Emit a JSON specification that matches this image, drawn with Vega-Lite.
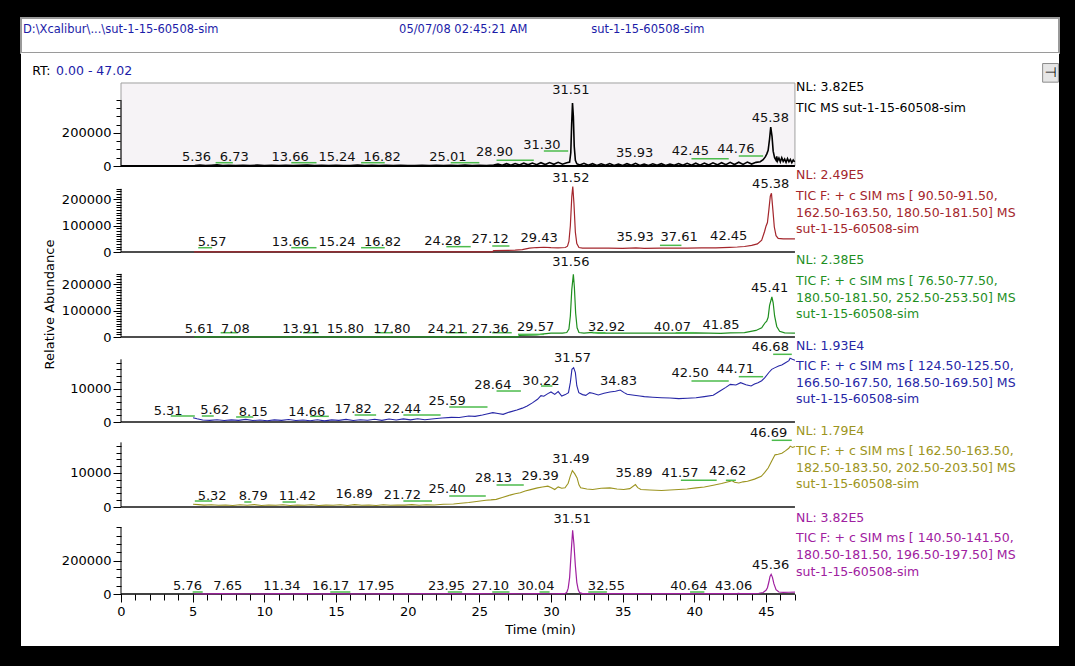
{
  "$schema": "https://vega.github.io/schema/vega-lite/v6.json",
  "background": "black",
  "padding": {"left": 20, "top": 17, "right": 17, "bottom": 21},
  "spacing": 0,
  "bounds": "flush",
  "config": {"font": "DejaVu Sans", "view": {"stroke": null}, "axis": {"grid": false, "labelFont": "DejaVu Sans", "titleFont": "DejaVu Sans", "domain": false, "tickColor": "black", "labelColor": "black", "labelFontSize": 13, "labelPadding": 2, "labelFlush": false, "labelBound": false, "titleColor": "black", "titleFontWeight": "normal", "titleFontSize": 13}},
  "datasets": {
    "tic": [{"t":5.15,"v":3000},{"t":5.5,"v":6000},{"t":5.9,"v":2500},{"t":6.3,"v":5000},{"t":6.7,"v":7000},{"t":7.1,"v":3000},{"t":7.5,"v":4500},{"t":8.0,"v":2000},{"t":8.5,"v":4000},{"t":9.0,"v":2500},{"t":9.5,"v":5000},{"t":10.0,"v":2000},{"t":10.5,"v":3500},{"t":11.0,"v":2500},{"t":11.5,"v":4500},{"t":12.0,"v":2000},{"t":12.5,"v":3500},{"t":13.0,"v":5500},{"t":13.5,"v":3000},{"t":14.0,"v":4000},{"t":14.5,"v":2000},{"t":15.0,"v":4500},{"t":15.5,"v":3000},{"t":16.0,"v":2500},{"t":16.5,"v":5000},{"t":17.0,"v":3000},{"t":17.5,"v":4000},{"t":18.0,"v":2000},{"t":18.5,"v":3500},{"t":19.0,"v":2500},{"t":19.5,"v":4000},{"t":20.0,"v":2000},{"t":20.5,"v":3000},{"t":21.0,"v":4500},{"t":21.5,"v":2500},{"t":22.0,"v":3500},{"t":22.5,"v":2000},{"t":23.0,"v":4000},{"t":23.5,"v":3000},{"t":24.0,"v":5000},{"t":24.5,"v":2500},{"t":25.0,"v":4500},{"t":25.5,"v":3000},{"t":26.0,"v":6000},{"t":26.3,"v":12000},{"t":26.6,"v":4000},{"t":26.9,"v":14000},{"t":27.2,"v":5000},{"t":27.5,"v":15000},{"t":27.8,"v":6000},{"t":28.1,"v":17000},{"t":28.4,"v":7000},{"t":28.7,"v":18000},{"t":29.0,"v":8000},{"t":29.3,"v":20000},{"t":29.6,"v":9000},{"t":29.9,"v":21000},{"t":30.2,"v":10000},{"t":30.5,"v":22000},{"t":30.8,"v":11000},{"t":31.1,"v":20000},{"t":31.3,"v":24000},{"t":31.38,"v":80000},{"t":31.44,"v":250000},{"t":31.5,"v":382000},{"t":31.56,"v":300000},{"t":31.62,"v":120000},{"t":31.7,"v":35000},{"t":31.8,"v":14000},{"t":32.0,"v":6000},{"t":32.3,"v":16000},{"t":32.6,"v":4000},{"t":32.9,"v":14000},{"t":33.2,"v":3000},{"t":33.5,"v":13000},{"t":33.8,"v":4000},{"t":34.1,"v":15000},{"t":34.4,"v":3000},{"t":34.7,"v":12000},{"t":35.0,"v":3000},{"t":35.3,"v":14000},{"t":35.6,"v":4000},{"t":35.9,"v":16000},{"t":36.2,"v":3000},{"t":36.5,"v":12000},{"t":36.8,"v":3000},{"t":37.1,"v":13000},{"t":37.4,"v":4000},{"t":37.7,"v":14000},{"t":38.0,"v":3000},{"t":38.3,"v":12000},{"t":38.6,"v":4000},{"t":38.9,"v":15000},{"t":39.2,"v":4000},{"t":39.5,"v":16000},{"t":39.8,"v":5000},{"t":40.1,"v":17000},{"t":40.4,"v":5000},{"t":40.7,"v":18000},{"t":41.0,"v":6000},{"t":41.3,"v":19000},{"t":41.6,"v":7000},{"t":41.9,"v":20000},{"t":42.2,"v":8000},{"t":42.5,"v":22000},{"t":42.8,"v":9000},{"t":43.1,"v":23000},{"t":43.4,"v":10000},{"t":43.7,"v":24000},{"t":44.0,"v":12000},{"t":44.3,"v":22000},{"t":44.6,"v":26000},{"t":44.8,"v":38000},{"t":44.95,"v":55000},{"t":45.05,"v":72000},{"t":45.15,"v":95000},{"t":45.25,"v":165000},{"t":45.33,"v":236000},{"t":45.42,"v":180000},{"t":45.5,"v":90000},{"t":45.6,"v":50000},{"t":45.7,"v":35000},{"t":45.75,"v":58000},{"t":45.8,"v":30000},{"t":45.9,"v":48000},{"t":46.0,"v":25000},{"t":46.1,"v":50000},{"t":46.2,"v":28000},{"t":46.3,"v":42000},{"t":46.4,"v":22000},{"t":46.5,"v":45000},{"t":46.6,"v":26000},{"t":46.7,"v":40000},{"t":46.8,"v":20000},{"t":46.9,"v":36000},{"t":47.0,"v":25000}],
    "red": [{"t":5.1,"v":300},{"t":8,"v":300},{"t":12,"v":400},{"t":16,"v":300},{"t":20,"v":400},{"t":24,"v":300},{"t":25.9,"v":500},{"t":26.0,"v":5000},{"t":27.0,"v":6000},{"t":27.5,"v":7000},{"t":28.0,"v":9000},{"t":28.5,"v":15000},{"t":29.0,"v":17000},{"t":29.5,"v":18000},{"t":30.0,"v":16500},{"t":30.5,"v":16000},{"t":31.0,"v":17000},{"t":31.15,"v":22000},{"t":31.25,"v":40000},{"t":31.35,"v":100000},{"t":31.45,"v":210000},{"t":31.52,"v":249000},{"t":31.6,"v":185000},{"t":31.7,"v":75000},{"t":31.8,"v":32000},{"t":31.95,"v":17000},{"t":32.2,"v":15000},{"t":33,"v":14500},{"t":34,"v":15000},{"t":35,"v":14000},{"t":35.93,"v":15500},{"t":36.5,"v":13500},{"t":37.61,"v":14500},{"t":38.5,"v":15000},{"t":39.5,"v":14500},{"t":40.5,"v":15500},{"t":41.5,"v":16000},{"t":42.45,"v":17500},{"t":43,"v":19000},{"t":43.5,"v":21000},{"t":44,"v":25000},{"t":44.4,"v":31000},{"t":44.7,"v":45000},{"t":44.9,"v":78000},{"t":45.0,"v":98000},{"t":45.1,"v":112000},{"t":45.2,"v":160000},{"t":45.3,"v":212000},{"t":45.38,"v":223000},{"t":45.48,"v":160000},{"t":45.58,"v":95000},{"t":45.7,"v":62000},{"t":45.85,"v":52000},{"t":46.2,"v":50000},{"t":47.02,"v":50000}],
    "grn": [{"t":5.1,"v":500},{"t":10,"v":600},{"t":15,"v":500},{"t":20,"v":600},{"t":25,"v":500},{"t":27.7,"v":700},{"t":27.8,"v":6000},{"t":29.0,"v":7500},{"t":29.5,"v":12000},{"t":30.0,"v":15000},{"t":30.8,"v":15000},{"t":31.1,"v":17000},{"t":31.25,"v":30000},{"t":31.35,"v":80000},{"t":31.45,"v":180000},{"t":31.56,"v":238000},{"t":31.63,"v":190000},{"t":31.72,"v":90000},{"t":31.82,"v":35000},{"t":31.95,"v":17000},{"t":32.3,"v":15000},{"t":32.9,"v":17500},{"t":33.3,"v":15000},{"t":35,"v":15000},{"t":37,"v":14500},{"t":39,"v":15000},{"t":40.07,"v":16000},{"t":41,"v":15000},{"t":41.85,"v":14000},{"t":42.5,"v":16000},{"t":43.5,"v":17000},{"t":44.3,"v":25000},{"t":44.7,"v":35000},{"t":44.95,"v":55000},{"t":45.05,"v":60000},{"t":45.15,"v":75000},{"t":45.25,"v":120000},{"t":45.41,"v":152000},{"t":45.5,"v":130000},{"t":45.6,"v":80000},{"t":45.75,"v":40000},{"t":45.95,"v":22000},{"t":46.3,"v":16000},{"t":47.02,"v":15000}],
    "blu": [{"t":5.03,"v":1310},{"t":5.3,"v":1000},{"t":5.7,"v":600},{"t":6.2,"v":500},{"t":6.7,"v":700},{"t":7.2,"v":450},{"t":7.7,"v":650},{"t":8.2,"v":500},{"t":8.7,"v":800},{"t":9.2,"v":450},{"t":9.7,"v":600},{"t":10.2,"v":400},{"t":10.7,"v":650},{"t":11.2,"v":500},{"t":11.7,"v":750},{"t":12.2,"v":450},{"t":12.7,"v":600},{"t":13.2,"v":400},{"t":13.7,"v":700},{"t":14.2,"v":350},{"t":14.7,"v":650},{"t":15.2,"v":500},{"t":15.7,"v":800},{"t":16.2,"v":450},{"t":16.7,"v":700},{"t":17.2,"v":550},{"t":17.7,"v":850},{"t":18.2,"v":500},{"t":18.7,"v":900},{"t":19.2,"v":600},{"t":19.7,"v":950},{"t":20.2,"v":650},{"t":20.7,"v":1000},{"t":21.2,"v":700},{"t":21.85,"v":1000},{"t":22.4,"v":1200},{"t":23.05,"v":1410},{"t":23.6,"v":1350},{"t":24.26,"v":1820},{"t":24.7,"v":1700},{"t":25.22,"v":2120},{"t":25.6,"v":2500},{"t":25.94,"v":2830},{"t":26.3,"v":2600},{"t":26.66,"v":2320},{"t":27.1,"v":3000},{"t":27.62,"v":3640},{"t":28.0,"v":4200},{"t":28.34,"v":4850},{"t":28.7,"v":5800},{"t":29.06,"v":6870},{"t":29.3,"v":8000},{"t":29.5,"v":7800},{"t":29.78,"v":8600},{"t":30.0,"v":9100},{"t":30.26,"v":8380},{"t":30.5,"v":9200},{"t":30.75,"v":7880},{"t":31.0,"v":8300},{"t":31.22,"v":8890},{"t":31.35,"v":12000},{"t":31.46,"v":15960},{"t":31.58,"v":16460},{"t":31.7,"v":14950},{"t":31.8,"v":11000},{"t":31.94,"v":8890},{"t":32.2,"v":8300},{"t":32.43,"v":8080},{"t":32.7,"v":8900},{"t":32.91,"v":8690},{"t":33.3,"v":8200},{"t":33.7,"v":8700},{"t":34.11,"v":9090},{"t":34.5,"v":9300},{"t":34.83,"v":9700},{"t":35.1,"v":8900},{"t":35.31,"v":8380},{"t":35.8,"v":8100},{"t":36.2,"v":7900},{"t":36.51,"v":7680},{"t":37.1,"v":7500},{"t":37.71,"v":7370},{"t":38.3,"v":7250},{"t":38.91,"v":7070},{"t":39.5,"v":7200},{"t":40.12,"v":7370},{"t":40.7,"v":7700},{"t":41.32,"v":8080},{"t":41.79,"v":9390},{"t":42.2,"v":10500},{"t":42.51,"v":11410},{"t":42.9,"v":11200},{"t":43.23,"v":11920},{"t":43.6,"v":11300},{"t":43.96,"v":10910},{"t":44.2,"v":11500},{"t":44.44,"v":11920},{"t":44.7,"v":12500},{"t":44.92,"v":13430},{"t":45.2,"v":15000},{"t":45.4,"v":15960},{"t":45.6,"v":16400},{"t":45.88,"v":16970},{"t":46.1,"v":17300},{"t":46.36,"v":17980},{"t":46.6,"v":18600},{"t":46.68,"v":19300},{"t":46.84,"v":18990},{"t":47.02,"v":18700}],
    "olv": [{"t":5.03,"v":800},{"t":5.4,"v":700},{"t":5.8,"v":550},{"t":6.3,"v":650},{"t":6.8,"v":500},{"t":7.3,"v":600},{"t":7.8,"v":450},{"t":8.3,"v":650},{"t":8.8,"v":500},{"t":9.3,"v":700},{"t":9.8,"v":450},{"t":10.3,"v":600},{"t":10.8,"v":500},{"t":11.3,"v":650},{"t":11.8,"v":450},{"t":12.3,"v":600},{"t":12.8,"v":500},{"t":13.3,"v":650},{"t":13.8,"v":450},{"t":14.3,"v":550},{"t":14.8,"v":500},{"t":15.3,"v":650},{"t":15.8,"v":450},{"t":16.3,"v":700},{"t":16.8,"v":500},{"t":17.3,"v":600},{"t":17.8,"v":450},{"t":18.3,"v":650},{"t":18.8,"v":500},{"t":19.3,"v":600},{"t":19.8,"v":550},{"t":20.3,"v":700},{"t":20.8,"v":500},{"t":21.3,"v":650},{"t":21.85,"v":600},{"t":22.5,"v":800},{"t":23.2,"v":900},{"t":23.7,"v":1100},{"t":24.26,"v":1300},{"t":24.8,"v":1600},{"t":25.46,"v":2000},{"t":25.8,"v":2100},{"t":26.18,"v":2250},{"t":26.6,"v":2800},{"t":27.14,"v":3500},{"t":27.5,"v":3900},{"t":27.86,"v":4200},{"t":28.2,"v":4700},{"t":28.58,"v":5100},{"t":29.06,"v":5630},{"t":29.4,"v":5900},{"t":29.78,"v":6120},{"t":30.0,"v":5700},{"t":30.26,"v":5140},{"t":30.5,"v":5900},{"t":30.75,"v":5500},{"t":30.98,"v":5630},{"t":31.2,"v":7000},{"t":31.34,"v":9020},{"t":31.49,"v":10680},{"t":31.65,"v":9800},{"t":31.82,"v":8540},{"t":31.95,"v":6500},{"t":32.07,"v":5630},{"t":32.5,"v":5300},{"t":32.91,"v":5140},{"t":33.5,"v":5500},{"t":34.11,"v":5630},{"t":34.6,"v":5300},{"t":35.07,"v":5140},{"t":35.5,"v":5400},{"t":35.89,"v":6600},{"t":36.05,"v":5700},{"t":36.27,"v":5140},{"t":36.9,"v":5000},{"t":37.71,"v":4850},{"t":38.3,"v":5000},{"t":38.91,"v":5140},{"t":39.5,"v":5300},{"t":40.12,"v":5630},{"t":40.7,"v":5900},{"t":41.32,"v":6400},{"t":41.9,"v":6900},{"t":42.51,"v":7570},{"t":42.62,"v":7800},{"t":42.8,"v":7300},{"t":43.11,"v":7080},{"t":43.4,"v":7400},{"t":43.71,"v":7570},{"t":44.2,"v":8200},{"t":44.67,"v":9020},{"t":44.9,"v":10100},{"t":45.15,"v":11450},{"t":45.4,"v":13500},{"t":45.63,"v":15330},{"t":45.85,"v":15500},{"t":46.11,"v":15810},{"t":46.35,"v":16500},{"t":46.59,"v":17270},{"t":46.69,"v":17900},{"t":46.85,"v":17500},{"t":47.02,"v":17800}],
    "pur": [{"t":5.1,"v":1500},{"t":6,"v":1200},{"t":7,"v":1800},{"t":8,"v":1200},{"t":9,"v":1600},{"t":10,"v":1200},{"t":11,"v":1800},{"t":12,"v":1300},{"t":13,"v":1700},{"t":14,"v":1200},{"t":15,"v":1800},{"t":16,"v":1300},{"t":17,"v":1600},{"t":18,"v":1200},{"t":19,"v":1700},{"t":20,"v":1300},{"t":21,"v":1800},{"t":22,"v":1400},{"t":23,"v":1700},{"t":24,"v":1300},{"t":25,"v":1800},{"t":26,"v":1400},{"t":27,"v":1700},{"t":28,"v":1500},{"t":29,"v":1900},{"t":30,"v":1600},{"t":30.6,"v":2000},{"t":30.9,"v":2500},{"t":31.0,"v":3500},{"t":31.1,"v":10000},{"t":31.2,"v":35000},{"t":31.3,"v":100000},{"t":31.4,"v":240000},{"t":31.51,"v":382000},{"t":31.6,"v":300000},{"t":31.7,"v":170000},{"t":31.8,"v":70000},{"t":31.9,"v":25000},{"t":32.0,"v":8000},{"t":32.2,"v":2500},{"t":33,"v":1800},{"t":34,"v":2200},{"t":35,"v":1700},{"t":36,"v":2100},{"t":37,"v":1800},{"t":38,"v":2200},{"t":39,"v":1800},{"t":40,"v":2300},{"t":41,"v":1900},{"t":42,"v":2400},{"t":43,"v":2200},{"t":43.06,"v":3500},{"t":43.2,"v":2300},{"t":44.0,"v":2800},{"t":44.5,"v":4500},{"t":44.8,"v":9000},{"t":45.0,"v":22000},{"t":45.1,"v":38000},{"t":45.2,"v":72000},{"t":45.28,"v":105000},{"t":45.36,"v":118000},{"t":45.45,"v":100000},{"t":45.55,"v":62000},{"t":45.7,"v":26000},{"t":45.9,"v":12000},{"t":46.2,"v":10000},{"t":46.6,"v":10500},{"t":47.02,"v":11000}],
    "lab1": [{"t":5.27,"v":54500,"label":"5.36"},{"t":7.9,"v":54500,"label":"6.73"},{"t":11.8,"v":54500,"label":"13.66"},{"t":15.07,"v":54500,"label":"15.24"},{"t":18.22,"v":54500,"label":"16.82"},{"t":22.81,"v":54500,"label":"25.01"},{"t":26.06,"v":84800,"label":"28.90"},{"t":29.36,"v":127300,"label":"31.30"},{"t":31.39,"v":460600,"label":"31.51"},{"t":35.84,"v":80600,"label":"35.93"},{"t":39.72,"v":90900,"label":"42.45"},{"t":42.9,"v":103000,"label":"44.76"},{"t":45.3,"v":290900,"label":"45.38"}],
    "lab2": [{"t":6.36,"v":38000,"label":"5.57"},{"t":11.82,"v":38000,"label":"13.66"},{"t":15.07,"v":38000,"label":"15.24"},{"t":18.25,"v":38000,"label":"16.82"},{"t":22.45,"v":41800,"label":"24.28"},{"t":25.75,"v":48300,"label":"27.12"},{"t":29.17,"v":54400,"label":"29.43"},{"t":31.39,"v":282300,"label":"31.52"},{"t":35.87,"v":57000,"label":"35.93"},{"t":38.94,"v":57000,"label":"37.61"},{"t":42.4,"v":60800,"label":"42.45"},{"t":45.33,"v":257300,"label":"45.38"}],
    "lab3": [{"t":5.46,"v":31500,"label":"5.61"},{"t":7.98,"v":31500,"label":"7.08"},{"t":12.54,"v":31500,"label":"13.91"},{"t":15.66,"v":31500,"label":"15.80"},{"t":18.9,"v":31500,"label":"17.80"},{"t":22.69,"v":31500,"label":"24.21"},{"t":25.76,"v":31500,"label":"27.36"},{"t":28.93,"v":38000,"label":"29.57"},{"t":31.39,"v":286100,"label":"31.56"},{"t":33.88,"v":38000,"label":"32.92"},{"t":38.47,"v":38000,"label":"40.07"},{"t":41.86,"v":45600,"label":"41.85"},{"t":45.25,"v":187300,"label":"45.41"}],
    "lab4": [{"t":3.29,"v":3330,"label":"5.31"},{"t":6.54,"v":3540,"label":"5.62"},{"t":9.23,"v":3030,"label":"8.15"},{"t":12.96,"v":3030,"label":"14.66"},{"t":16.2,"v":4030,"label":"17.82"},{"t":19.63,"v":4030,"label":"22.44"},{"t":22.75,"v":6360,"label":"25.59"},{"t":25.94,"v":11120,"label":"28.64"},{"t":29.3,"v":12420,"label":"30.22"},{"t":31.5,"v":19480,"label":"31.57"},{"t":34.71,"v":12420,"label":"34.83"},{"t":39.71,"v":14940,"label":"42.50"},{"t":42.87,"v":15970,"label":"44.71"},{"t":45.3,"v":22820,"label":"46.68"}],
    "lab5": [{"t":6.36,"v":3230,"label":"5.32"},{"t":9.23,"v":3230,"label":"8.79"},{"t":12.3,"v":3230,"label":"11.42"},{"t":16.26,"v":3730,"label":"16.89"},{"t":19.63,"v":3530,"label":"21.72"},{"t":22.75,"v":5200,"label":"25.40"},{"t":25.99,"v":8440,"label":"28.13"},{"t":29.24,"v":9110,"label":"29.39"},{"t":31.39,"v":14020,"label":"31.49"},{"t":35.79,"v":10080,"label":"35.89"},{"t":39.0,"v":10080,"label":"41.57"},{"t":42.33,"v":10580,"label":"42.62"},{"t":45.18,"v":21840,"label":"46.69"}],
    "lab6": [{"t":4.64,"v":48000,"label":"5.76"},{"t":7.45,"v":48000,"label":"7.65"},{"t":11.22,"v":48000,"label":"11.34"},{"t":14.62,"v":48000,"label":"16.17"},{"t":17.79,"v":48000,"label":"17.95"},{"t":22.71,"v":48000,"label":"23.95"},{"t":25.77,"v":48000,"label":"27.10"},{"t":28.94,"v":48000,"label":"30.04"},{"t":31.47,"v":451800,"label":"31.51"},{"t":33.87,"v":48000,"label":"32.55"},{"t":39.62,"v":48000,"label":"40.64"},{"t":42.74,"v":48000,"label":"43.06"},{"t":45.33,"v":172200,"label":"45.36"}],
    "seg1": [{"t":6.6,"t2":7.8,"v":20000},{"t":11.88,"t2":13.64,"v":20000},{"t":16.75,"t2":18.4,"v":20000},{"t":23.0,"t2":25.0,"v":20000},{"t":26.2,"t2":28.8,"v":34500},{"t":29.5,"t2":31.2,"v":90900},{"t":39.8,"t2":42.4,"v":44200},{"t":43.1,"t2":44.8,"v":60600}],
    "seg2": [{"t":5.39,"t2":6.36,"v":16300},{"t":11.88,"t2":13.64,"v":16300},{"t":16.75,"t2":18.4,"v":16300},{"t":22.7,"t2":24.4,"v":20300},{"t":25.9,"t2":27.1,"v":22800},{"t":37.6,"t2":39.1,"v":25300}],
    "seg3": [{"t":6.95,"t2":8.15,"v":16300},{"t":12.7,"t2":13.8,"v":16300},{"t":17.77,"t2":18.97,"v":16300},{"t":22.7,"t2":24.14,"v":16300},{"t":25.9,"t2":27.26,"v":16300},{"t":27.7,"t2":29.5,"v":10000},{"t":32.9,"t2":33.8,"v":16300},{"t":38.7,"t2":40.0,"v":16300}],
    "seg4": [{"t":3.47,"t2":5.15,"v":1820},{"t":5.64,"t2":6.47,"v":1820},{"t":8.03,"t2":9.23,"v":1520},{"t":13.2,"t2":14.5,"v":1720},{"t":16.3,"t2":17.8,"v":2120},{"t":19.7,"t2":22.3,"v":2120},{"t":22.9,"t2":25.57,"v":4550},{"t":26.2,"t2":27.9,"v":9390},{"t":29.3,"t2":30.1,"v":10900},{"t":39.8,"t2":42.4,"v":12420},{"t":43.1,"t2":44.8,"v":13730},{"t":45.5,"t2":46.8,"v":20510}],
    "seg5": [{"t":5.15,"t2":6.36,"v":1760},{"t":8.6,"t2":9.1,"v":1470},{"t":11.27,"t2":12.2,"v":1470},{"t":19.7,"t2":21.7,"v":1760},{"t":22.9,"t2":25.45,"v":3230},{"t":26.2,"t2":28.1,"v":6470},{"t":39.06,"t2":41.56,"v":7850},{"t":42.2,"t2":42.9,"v":7850},{"t":45.4,"t2":46.8,"v":19610}],
    "seg6": [{"t":5.0,"t2":5.7,"v":12000},{"t":14.6,"t2":16.0,"v":12000},{"t":22.8,"t2":23.8,"v":12000},{"t":25.9,"t2":27.1,"v":12000},{"t":29.2,"t2":29.9,"v":12000},{"t":32.6,"t2":33.9,"v":12000},{"t":39.7,"t2":40.7,"v":12000}]
  },
  "vconcat": [
    {
      "width": 1038, "height": 35,
      "view": {"fill": "white", "stroke": "#9a9a9a", "strokeWidth": 2},
      "layer": [
        {"data": {"values": [{}]}, "mark": {"type": "text", "align": "left", "baseline": "middle", "fontSize": 11.5, "color": "#1c1ca8"},
         "encoding": {"x": {"datum": -6.84, "type": "quantitative", "scale": {"domain": [-6.977, 65.442], "nice": false, "zero": false}, "axis": null},
                      "y": {"datum": 0.65, "type": "quantitative", "scale": {"domain": [0, 1], "nice": false}, "axis": null},
                      "text": {"value": "D:\\Xcalibur\\...\\sut-1-15-60508-sim"}}},
        {"data": {"values": [{}]}, "mark": {"type": "text", "align": "left", "baseline": "middle", "fontSize": 11.5, "color": "#1c1ca8"},
         "encoding": {"x": {"datum": 19.4, "type": "quantitative", "axis": null}, "y": {"datum": 0.65, "type": "quantitative", "axis": null}, "text": {"value": "05/07/08 02:45:21 AM"}}},
        {"data": {"values": [{}]}, "mark": {"type": "text", "align": "left", "baseline": "middle", "fontSize": 11.5, "color": "#1c1ca8"},
         "encoding": {"x": {"datum": 32.8, "type": "quantitative", "axis": null}, "y": {"datum": 0.65, "type": "quantitative", "axis": null}, "text": {"value": "sut-1-15-60508-sim"}}}
      ]
    },
    {
      "width": 1038, "height": 121,
      "view": {"fill": "white", "stroke": null},
      "resolve": {"axis": {"x": "independent", "y": "independent"}},
      "layer": [
        {"data": {"values": [{}]}, "mark": {"type": "rect", "fill": "#f6f3f6", "stroke": "#a0a0a0", "strokeWidth": 1},
         "encoding": {"x": {"datum": 0, "type": "quantitative", "scale": {"domain": [-6.977, 65.442], "nice": false, "zero": false}, "axis": null},
                      "x2": {"datum": 47.02},
                      "y": {"datum": 0, "type": "quantitative", "scale": {"domain": [-48480, 684780], "nice": false, "zero": false},
                            "axis": {"orient": "left", "values": [0,50000,100000,150000,200000,250000,300000,350000,400000], "labels": false, "tickSize": 5, "offset": -100, "title": null}},
                      "y2": {"datum": 503000}}},
        {"data": {"values": [{}]}, "mark": {"type": "rect", "fill": "#e6e6e6", "stroke": "#8c8c8c", "strokeWidth": 1},
         "encoding": {"x": {"datum": 64.3, "type": "quantitative", "axis": null}, "x2": {"datum": 65.4},
                      "y": {"datum": 508000, "type": "quantitative", "axis": null}, "y2": {"datum": 621000}}},
        {"data": {"values": [{}]}, "mark": {"type": "text", "fontSize": 14, "color": "black", "align": "center", "baseline": "middle"},
         "encoding": {"x": {"datum": 64.85, "type": "quantitative", "axis": null}, "y": {"datum": 566000, "type": "quantitative", "axis": null}, "text": {"value": "⊣"}}},
        {"data": {"values": [{}]}, "mark": {"type": "rule", "color": "black", "strokeWidth": 2},
         "encoding": {"x": {"datum": 0, "type": "quantitative", "axis": null}, "x2": {"datum": 47.02},
                      "y": {"datum": 0, "type": "quantitative", "axis": {"orient": "left", "values": [0, 200000], "format": "d", "tickSize": 8, "offset": -100, "title": null}}}},
        {"data": {"values": [{}]}, "mark": {"type": "rule", "color": "black", "strokeWidth": 1},
         "encoding": {"x": {"datum": 0, "type": "quantitative", "axis": null}, "y": {"datum": 0, "type": "quantitative", "axis": null}, "y2": {"datum": 400000}}},
        {"data": {"name": "tic"}, "mark": {"type": "line", "color": "black", "strokeWidth": 1.6},
         "encoding": {"x": {"field": "t", "type": "quantitative", "axis": null}, "y": {"field": "v", "type": "quantitative", "axis": null}}},
        {"data": {"name": "seg1"}, "mark": {"type": "rule", "color": "#4cbb4c", "strokeWidth": 1.5},
         "encoding": {"x": {"field": "t", "type": "quantitative", "axis": null}, "x2": {"field": "t2"}, "y": {"field": "v", "type": "quantitative", "axis": null}}},
        {"data": {"name": "lab1"}, "mark": {"type": "text", "fontSize": 13, "color": "#111", "align": "center", "baseline": "middle"},
         "encoding": {"x": {"field": "t", "type": "quantitative", "axis": null}, "y": {"field": "v", "type": "quantitative", "axis": null}, "text": {"field": "label"}}},
        {"data": {"values": [{}]}, "mark": {"type": "text", "fontSize": 12.5, "color": "black", "align": "left", "baseline": "middle"},
         "encoding": {"x": {"datum": -6.2, "type": "quantitative", "axis": null}, "y": {"datum": 575700, "type": "quantitative", "axis": null}, "text": {"value": "RT:"}}},
        {"data": {"values": [{}]}, "mark": {"type": "text", "fontSize": 12.5, "color": "#1c1ca8", "align": "left", "baseline": "middle"},
         "encoding": {"x": {"datum": -4.53, "type": "quantitative", "axis": null}, "y": {"datum": 575700, "type": "quantitative", "axis": null}, "text": {"value": "0.00 - 47.02"}}},
        {"data": {"values": [{}]}, "mark": {"type": "text", "fontSize": 12.5, "color": "black", "align": "left", "baseline": "middle"},
         "encoding": {"x": {"datum": 47.1, "type": "quantitative", "axis": null}, "y": {"datum": 478700, "type": "quantitative", "axis": null}, "text": {"value": "NL: 3.82E5"}}},
        {"data": {"values": [{}]}, "mark": {"type": "text", "fontSize": 12.5, "color": "black", "align": "left", "baseline": "middle"},
         "encoding": {"x": {"datum": 47.1, "type": "quantitative", "axis": null}, "y": {"datum": 351500, "type": "quantitative", "axis": null}, "text": {"value": "TIC  MS sut-1-15-60508-sim"}}}
      ]
    },
    {
      "width": 1038, "height": 86,
      "view": {"fill": "white", "stroke": null},
      "resolve": {"axis": {"x": "independent", "y": "independent"}},
      "layer": [
        {"data": {"values": [{}]}, "mark": {"type": "rule", "color": "#4d4d4d", "strokeWidth": 2},
         "encoding": {"x": {"datum": 0, "type": "quantitative", "scale": {"domain": [-6.977, 65.442], "nice": false, "zero": false}, "axis": null},
                      "x2": {"datum": 47.02},
                      "y": {"datum": 0, "type": "quantitative", "scale": {"domain": [-30400, 296400], "nice": false, "zero": false},
                            "axis": {"orient": "left", "values": [0,10000,20000,30000,40000,50000,60000,70000,80000,90000,100000,110000,120000,130000,140000,150000,160000,170000,180000,190000,200000,210000,220000,230000,240000], "labels": false, "tickSize": 5, "offset": -100, "title": null}}}},
        {"data": {"values": [{}]}, "mark": {"type": "rule", "color": "black", "strokeWidth": 1},
         "encoding": {"x": {"datum": 0, "type": "quantitative", "axis": null},
                      "y": {"datum": 0, "type": "quantitative", "axis": {"orient": "left", "values": [0, 100000, 200000], "format": "d", "tickSize": 8, "offset": -100, "title": null}},
                      "y2": {"datum": 240000}}},
        {"data": {"name": "red"}, "mark": {"type": "line", "color": "#a4262c", "strokeWidth": 1.2},
         "encoding": {"x": {"field": "t", "type": "quantitative", "axis": null}, "y": {"field": "v", "type": "quantitative", "axis": null}}},
        {"data": {"name": "seg2"}, "mark": {"type": "rule", "color": "#4cbb4c", "strokeWidth": 1.5},
         "encoding": {"x": {"field": "t", "type": "quantitative", "axis": null}, "x2": {"field": "t2"}, "y": {"field": "v", "type": "quantitative", "axis": null}}},
        {"data": {"name": "lab2"}, "mark": {"type": "text", "fontSize": 13, "color": "#111", "align": "center", "baseline": "middle"},
         "encoding": {"x": {"field": "t", "type": "quantitative", "axis": null}, "y": {"field": "v", "type": "quantitative", "axis": null}, "text": {"field": "label"}}},
        {"data": {"values": [{}]}, "mark": {"type": "text", "fontSize": 12.5, "color": "#a4262c", "align": "left", "baseline": "middle"},
         "encoding": {"x": {"datum": 47.1, "type": "quantitative", "axis": null}, "y": {"datum": 291500, "type": "quantitative", "axis": null}, "text": {"value": "NL: 2.49E5"}}},
        {"data": {"values": [{}]}, "mark": {"type": "text", "fontSize": 12.5, "color": "#a4262c", "align": "left", "baseline": "middle", "lineHeight": 16.7},
         "encoding": {"x": {"datum": 47.1, "type": "quantitative", "axis": null}, "y": {"datum": 212800, "type": "quantitative", "axis": null}, "text": {"value": ["TIC F: + c SIM ms [ 90.50-91.50,", "162.50-163.50, 180.50-181.50]  MS", "sut-1-15-60508-sim"]}}}
      ]
    },
    {
      "width": 1038, "height": 85,
      "view": {"fill": "white", "stroke": null},
      "resolve": {"axis": {"x": "independent", "y": "independent"}},
      "layer": [
        {"data": {"values": [{}]}, "mark": {"type": "rule", "color": "#4d4d4d", "strokeWidth": 2},
         "encoding": {"x": {"datum": 0, "type": "quantitative", "scale": {"domain": [-6.977, 65.442], "nice": false, "zero": false}, "axis": null},
                      "x2": {"datum": 47.02},
                      "y": {"datum": 0, "type": "quantitative", "scale": {"domain": [-30400, 292600], "nice": false, "zero": false},
                            "axis": {"orient": "left", "values": [0,10000,20000,30000,40000,50000,60000,70000,80000,90000,100000,110000,120000,130000,140000,150000,160000,170000,180000,190000,200000,210000,220000,230000,240000], "labels": false, "tickSize": 5, "offset": -100, "title": null}}}},
        {"data": {"values": [{}]}, "mark": {"type": "rule", "color": "black", "strokeWidth": 1},
         "encoding": {"x": {"datum": 0, "type": "quantitative", "axis": null},
                      "y": {"datum": 0, "type": "quantitative", "axis": {"orient": "left", "values": [0, 100000, 200000], "format": "d", "tickSize": 8, "offset": -100, "title": null}},
                      "y2": {"datum": 240000}}},
        {"data": {"name": "grn"}, "mark": {"type": "line", "color": "#1f8f1f", "strokeWidth": 1.2},
         "encoding": {"x": {"field": "t", "type": "quantitative", "axis": null}, "y": {"field": "v", "type": "quantitative", "axis": null}}},
        {"data": {"name": "seg3"}, "mark": {"type": "rule", "color": "#4cbb4c", "strokeWidth": 1.5},
         "encoding": {"x": {"field": "t", "type": "quantitative", "axis": null}, "x2": {"field": "t2"}, "y": {"field": "v", "type": "quantitative", "axis": null}}},
        {"data": {"name": "lab3"}, "mark": {"type": "text", "fontSize": 13, "color": "#111", "align": "center", "baseline": "middle"},
         "encoding": {"x": {"field": "t", "type": "quantitative", "axis": null}, "y": {"field": "v", "type": "quantitative", "axis": null}, "text": {"field": "label"}}},
        {"data": {"values": [{}]}, "mark": {"type": "text", "fontSize": 12.5, "color": "#1f8f1f", "align": "left", "baseline": "middle"},
         "encoding": {"x": {"datum": 47.1, "type": "quantitative", "axis": null}, "y": {"datum": 291500, "type": "quantitative", "axis": null}, "text": {"value": "NL: 2.38E5"}}},
        {"data": {"values": [{}]}, "mark": {"type": "text", "fontSize": 12.5, "color": "#1f8f1f", "align": "left", "baseline": "middle", "lineHeight": 16.7},
         "encoding": {"x": {"datum": 47.1, "type": "quantitative", "axis": null}, "y": {"datum": 212800, "type": "quantitative", "axis": null}, "text": {"value": ["TIC F: + c SIM ms [ 76.50-77.50,", "180.50-181.50, 252.50-253.50]  MS", "sut-1-15-60508-sim"]}}}
      ]
    },
    {
      "width": 1038, "height": 85,
      "view": {"fill": "white", "stroke": null},
      "resolve": {"axis": {"x": "independent", "y": "independent"}},
      "layer": [
        {"data": {"values": [{}]}, "mark": {"type": "rule", "color": "#4d4d4d", "strokeWidth": 2},
         "encoding": {"x": {"datum": 0, "type": "quantitative", "scale": {"domain": [-6.977, 65.442], "nice": false, "zero": false}, "axis": null},
                      "x2": {"datum": 47.02},
                      "y": {"datum": 0, "type": "quantitative", "scale": {"domain": [-2424, 23331], "nice": false, "zero": false},
                            "axis": {"orient": "left", "values": [0,2000,4000,6000,8000,10000,12000,14000,16000,18000], "labels": false, "tickSize": 5, "offset": -100, "title": null}}}},
        {"data": {"values": [{}]}, "mark": {"type": "rule", "color": "black", "strokeWidth": 1},
         "encoding": {"x": {"datum": 0, "type": "quantitative", "axis": null},
                      "y": {"datum": 0, "type": "quantitative", "axis": {"orient": "left", "values": [0, 10000], "format": "d", "tickSize": 8, "offset": -100, "title": "Relative Abundance", "titleX": -65, "titleY": -41, "titleAngle": 270, "titleAlign": "center", "titleBaseline": "bottom"}},
                      "y2": {"datum": 19000}}},
        {"data": {"name": "blu"}, "mark": {"type": "line", "color": "#2626a6", "strokeWidth": 1.1},
         "encoding": {"x": {"field": "t", "type": "quantitative", "axis": null}, "y": {"field": "v", "type": "quantitative", "axis": null}}},
        {"data": {"name": "seg4"}, "mark": {"type": "rule", "color": "#4cbb4c", "strokeWidth": 1.5},
         "encoding": {"x": {"field": "t", "type": "quantitative", "axis": null}, "x2": {"field": "t2"}, "y": {"field": "v", "type": "quantitative", "axis": null}}},
        {"data": {"name": "lab4"}, "mark": {"type": "text", "fontSize": 13, "color": "#111", "align": "center", "baseline": "middle"},
         "encoding": {"x": {"field": "t", "type": "quantitative", "axis": null}, "y": {"field": "v", "type": "quantitative", "axis": null}, "text": {"field": "label"}}},
        {"data": {"values": [{}]}, "mark": {"type": "text", "fontSize": 12.5, "color": "#2626a6", "align": "left", "baseline": "middle"},
         "encoding": {"x": {"datum": 47.1, "type": "quantitative", "axis": null}, "y": {"datum": 23030, "type": "quantitative", "axis": null}, "text": {"value": "NL: 1.93E4"}}},
        {"data": {"values": [{}]}, "mark": {"type": "text", "fontSize": 12.5, "color": "#2626a6", "align": "left", "baseline": "middle", "lineHeight": 16.7},
         "encoding": {"x": {"datum": 47.1, "type": "quantitative", "axis": null}, "y": {"datum": 16970, "type": "quantitative", "axis": null}, "text": {"value": ["TIC F: + c SIM ms [ 124.50-125.50,", "166.50-167.50, 168.50-169.50]  MS", "sut-1-15-60508-sim"]}}}
      ]
    },
    {
      "width": 1038, "height": 85,
      "view": {"fill": "white", "stroke": null},
      "resolve": {"axis": {"x": "independent", "y": "independent"}},
      "layer": [
        {"data": {"values": [{}]}, "mark": {"type": "rule", "color": "#4d4d4d", "strokeWidth": 2},
         "encoding": {"x": {"datum": 0, "type": "quantitative", "scale": {"domain": [-6.977, 65.442], "nice": false, "zero": false}, "axis": null},
                      "x2": {"datum": 47.02},
                      "y": {"datum": 0, "type": "quantitative", "scale": {"domain": [-2352, 22638], "nice": false, "zero": false},
                            "axis": {"orient": "left", "values": [0,2000,4000,6000,8000,10000,12000,14000,16000,18000], "labels": false, "tickSize": 5, "offset": -100, "title": null}}}},
        {"data": {"values": [{}]}, "mark": {"type": "rule", "color": "black", "strokeWidth": 1},
         "encoding": {"x": {"datum": 0, "type": "quantitative", "axis": null},
                      "y": {"datum": 0, "type": "quantitative", "axis": {"orient": "left", "values": [0, 10000], "format": "d", "tickSize": 8, "offset": -100, "title": null}},
                      "y2": {"datum": 19000}}},
        {"data": {"name": "olv"}, "mark": {"type": "line", "color": "#9c9420", "strokeWidth": 1.1},
         "encoding": {"x": {"field": "t", "type": "quantitative", "axis": null}, "y": {"field": "v", "type": "quantitative", "axis": null}}},
        {"data": {"name": "seg5"}, "mark": {"type": "rule", "color": "#4cbb4c", "strokeWidth": 1.5},
         "encoding": {"x": {"field": "t", "type": "quantitative", "axis": null}, "x2": {"field": "t2"}, "y": {"field": "v", "type": "quantitative", "axis": null}}},
        {"data": {"name": "lab5"}, "mark": {"type": "text", "fontSize": 13, "color": "#111", "align": "center", "baseline": "middle"},
         "encoding": {"x": {"field": "t", "type": "quantitative", "axis": null}, "y": {"field": "v", "type": "quantitative", "axis": null}, "text": {"field": "label"}}},
        {"data": {"values": [{}]}, "mark": {"type": "text", "fontSize": 12.5, "color": "#9c9420", "align": "left", "baseline": "middle"},
         "encoding": {"x": {"datum": 47.1, "type": "quantitative", "axis": null}, "y": {"datum": 22340, "type": "quantitative", "axis": null}, "text": {"value": "NL: 1.79E4"}}},
        {"data": {"values": [{}]}, "mark": {"type": "text", "fontSize": 12.5, "color": "#9c9420", "align": "left", "baseline": "middle", "lineHeight": 16.7},
         "encoding": {"x": {"datum": 47.1, "type": "quantitative", "axis": null}, "y": {"datum": 16460, "type": "quantitative", "axis": null}, "text": {"value": ["TIC F: + c SIM ms [ 162.50-163.50,", "182.50-183.50, 202.50-203.50]  MS", "sut-1-15-60508-sim"]}}}
      ]
    },
    {
      "width": 1038, "height": 131,
      "view": {"fill": "white", "stroke": null},
      "resolve": {"axis": {"x": "independent", "y": "independent"}},
      "layer": [
        {"data": {"values": [{}]}, "mark": {"type": "rule", "color": "black", "strokeWidth": 1.5},
         "encoding": {"x": {"datum": 0, "type": "quantitative", "scale": {"domain": [-6.977, 65.442], "nice": false, "zero": false},
                            "axis": {"orient": "bottom", "values": [0,1,2,3,4,6,7,8,9,11,12,13,14,16,17,18,19,21,22,23,24,26,27,28,29,31,32,33,34,36,37,38,39,41,42,43,44,46,47], "labels": false, "tickSize": 6, "offset": -52, "title": null}},
                      "x2": {"datum": 47.02},
                      "y": {"datum": 0, "type": "quantitative", "scale": {"domain": [-312000, 474000], "nice": false, "zero": false},
                            "axis": {"orient": "left", "values": [0,50000,100000,150000,200000,250000,300000,350000,400000], "labels": false, "tickSize": 5, "offset": -100, "title": null}}}},
        {"data": {"values": [{}]}, "mark": {"type": "rule", "color": "black", "strokeWidth": 1},
         "encoding": {"x": {"datum": 0, "type": "quantitative",
                            "axis": {"orient": "bottom", "values": [0,5,10,15,20,25,30,35,40,45], "format": "d", "tickSize": 8, "labelPadding": 3, "offset": -52, "title": "Time (min)", "titlePadding": 5}},
                      "y": {"datum": 0, "type": "quantitative", "axis": {"orient": "left", "values": [0, 200000], "format": "d", "tickSize": 8, "offset": -100, "title": null}},
                      "y2": {"datum": 400000}}},
        {"data": {"name": "pur"}, "mark": {"type": "line", "color": "#a020a0", "strokeWidth": 1.2},
         "encoding": {"x": {"field": "t", "type": "quantitative", "axis": null}, "y": {"field": "v", "type": "quantitative", "axis": null}}},
        {"data": {"name": "seg6"}, "mark": {"type": "rule", "color": "#4cbb4c", "strokeWidth": 1.5},
         "encoding": {"x": {"field": "t", "type": "quantitative", "axis": null}, "x2": {"field": "t2"}, "y": {"field": "v", "type": "quantitative", "axis": null}}},
        {"data": {"name": "lab6"}, "mark": {"type": "text", "fontSize": 13, "color": "#111", "align": "center", "baseline": "middle"},
         "encoding": {"x": {"field": "t", "type": "quantitative", "axis": null}, "y": {"field": "v", "type": "quantitative", "axis": null}, "text": {"field": "label"}}},
        {"data": {"values": [{}]}, "mark": {"type": "text", "fontSize": 12.5, "color": "#a020a0", "align": "left", "baseline": "middle"},
         "encoding": {"x": {"datum": 47.1, "type": "quantitative", "axis": null}, "y": {"datum": 457800, "type": "quantitative", "axis": null}, "text": {"value": "NL: 3.82E5"}}},
        {"data": {"values": [{}]}, "mark": {"type": "text", "fontSize": 12.5, "color": "#a020a0", "align": "left", "baseline": "middle", "lineHeight": 16.7},
         "encoding": {"x": {"datum": 47.1, "type": "quantitative", "axis": null}, "y": {"datum": 334200, "type": "quantitative", "axis": null}, "text": {"value": ["TIC F: + c SIM ms [ 140.50-141.50,", "180.50-181.50, 196.50-197.50]  MS", "sut-1-15-60508-sim"]}}}
      ]
    }
  ]
}
